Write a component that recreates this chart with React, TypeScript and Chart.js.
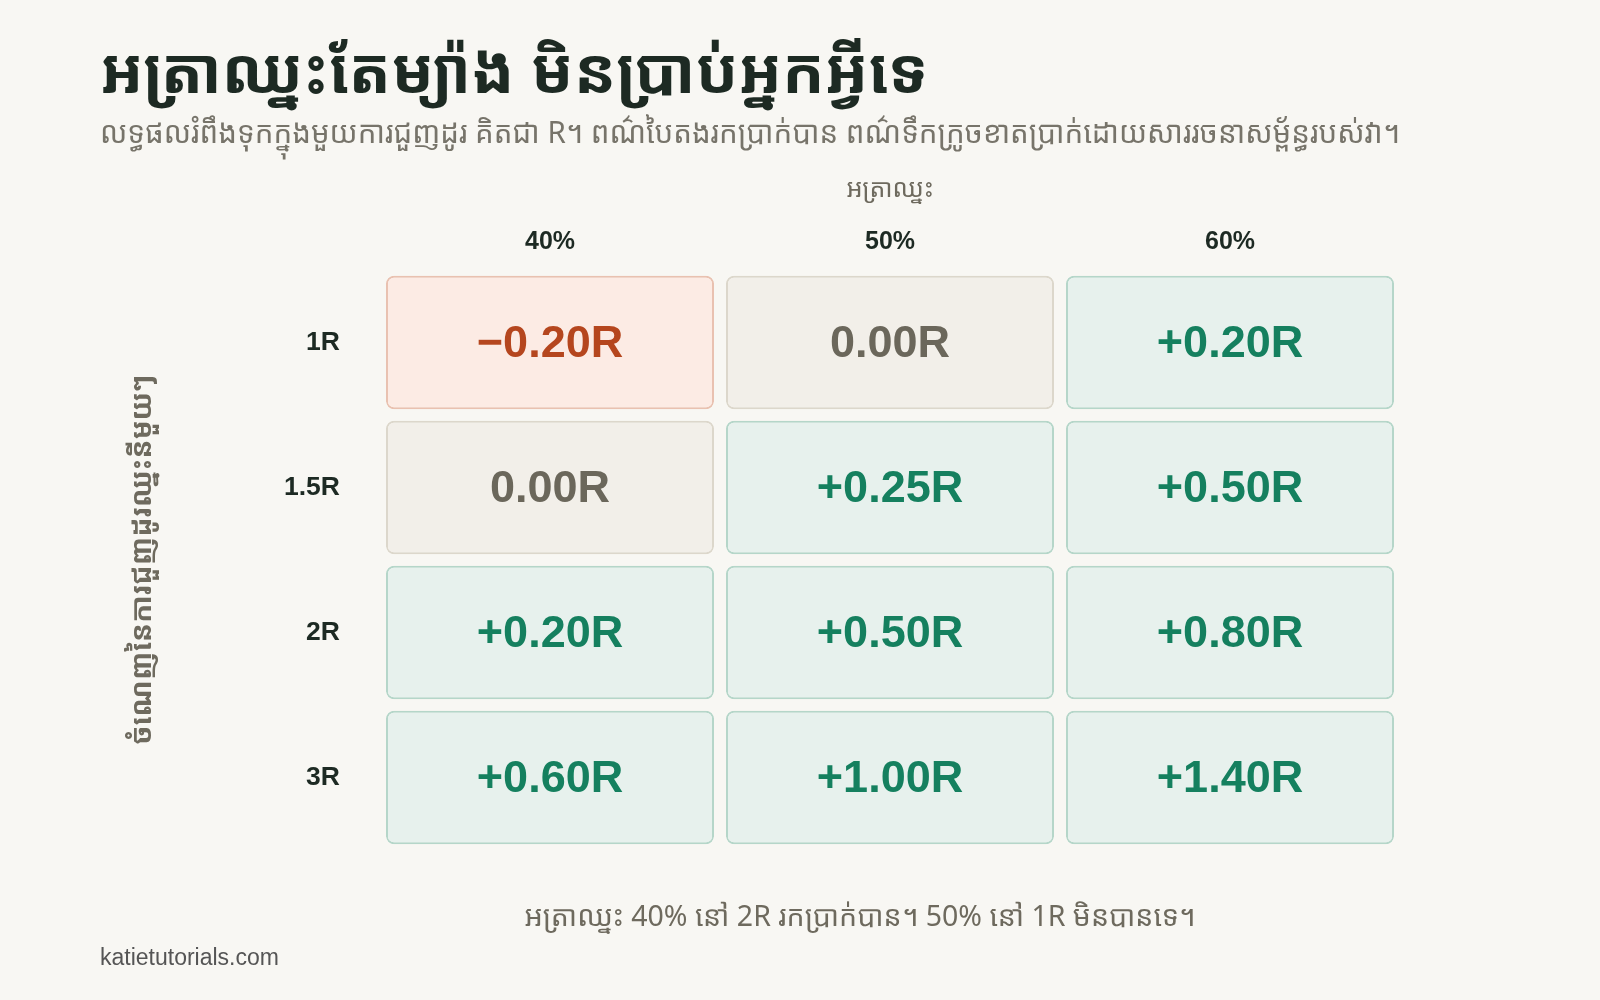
import { useEffect, useRef } from "react"
import { Chart, registerables } from "chart.js"

// Register Chart.js components
Chart.register(...registerables)

// Win rate columns and reward rows
const winRates = ["40%", "50%", "60%"]
const rewardLabels = ["1R", "1.5R", "2R", "3R"]

// Expected value per trade (in R), one array per win rate, rows follow rewardLabels
const ev40 = [-0.2, 0.0, 0.2, 0.6]
const ev50 = [0.0, 0.25, 0.5, 1.0]
const ev60 = [0.2, 0.5, 0.8, 1.4]
const evColumns = [ev40, ev50, ev60]

const titleText = "អត្រាឈ្នះតែម្យ៉ាង មិនប្រាប់អ្នកអ្វីទេ"
const subtitleText =
  "លទ្ធផលរំពឹងទុកក្នុងមួយការជួញដូរ គិតជា R។ ពណ៌បៃតងរកប្រាក់បាន ពណ៌ទឹកក្រូចខាតប្រាក់ដោយសាររចនាសម្ព័ន្ធរបស់វា។"
const xTitle = "អត្រាឈ្នះ"
const yTitle = "ចំណេញនៃការជួញដូរឈ្នះនីមួយៗ"
const footnote = "អត្រាឈ្នះ 40% នៅ 2R រកប្រាក់បាន។ 50% នៅ 1R មិនបានទេ។"
const credit = "katietutorials.com"

const KHMER = "'Noto Sans Khmer', 'Noto Serif Khmer', 'Khmer OS', 'Liberation Sans', sans-serif"
const LATIN = "'Liberation Sans', Arial, Helvetica, sans-serif"

const INK = "#1d2a23"
const MUTED = "#6e6a5e"

function tone(v: number) {
  if (v < 0) return { fill: "#fcebe4", border: "#e9c1b0", text: "#b5461e" }
  if (v === 0) return { fill: "#f2efe9", border: "#dcd7cb", text: "#6b675b" }
  return { fill: "#e7f1ed", border: "#b5d6c9", text: "#15805f" }
}

function formatEv(v: number) {
  if (v > 0) return `+${v.toFixed(2)}R`
  if (v < 0) return `\u2212${Math.abs(v).toFixed(2)}R`
  return `${v.toFixed(2)}R`
}

// small gap between neighbouring cells, as a share of one column
const CELL_INSET = 0.0176

const cellLabels = {
  id: "cellLabels",
  afterDatasetsDraw(chart: Chart) {
    const { ctx } = chart
    ctx.save()
    ctx.font = `bold 45px ${LATIN}`
    ctx.textAlign = "center"
    ctx.textBaseline = "middle"
    chart.data.datasets.forEach((_ds, di) => {
      const meta = chart.getDatasetMeta(di)
      meta.data.forEach((bar: any, ri: number) => {
        const v = evColumns[di][ri]
        const { x, y } = bar.getCenterPoint()
        ctx.fillStyle = tone(v).text
        ctx.fillText(formatEv(v), x, y + 2)
      })
    })
    ctx.restore()
  },
}

const footerNotes = {
  id: "footerNotes",
  afterDraw(chart: Chart) {
    const { ctx } = chart
    ctx.save()
    ctx.textBaseline = "middle"
    ctx.textAlign = "center"
    ctx.fillStyle = MUTED
    ctx.font = `28.5px ${KHMER}`
    ctx.fillText(footnote, 860, 918)
    ctx.textAlign = "left"
    ctx.fillStyle = "#555555"
    ctx.font = `23px ${LATIN}`
    ctx.fillText(credit, 100, 959)
    ctx.restore()
  },
}

function ExpectancyGrid() {
  const chartRef = useRef<HTMLCanvasElement>(null)
  const chartInstance = useRef<Chart | null>(null)

  useEffect(() => {
    if (!chartRef.current) return
    if (chartInstance.current) chartInstance.current.destroy()

    const ctx = chartRef.current.getContext("2d")
    if (!ctx) return

    chartInstance.current = new Chart(ctx, {
      type: "bar",
      data: {
        labels: rewardLabels,
        datasets: evColumns.map((col, ci) => ({
          label: winRates[ci],
          data: col.map(() => [ci + CELL_INSET, ci + 1 - CELL_INSET]),
          grouped: false,
          backgroundColor: col.map((v) => tone(v).fill),
          borderColor: col.map((v) => tone(v).border),
          borderWidth: 2,
          borderRadius: 8,
          borderSkipped: false,
          barPercentage: 0.922,
          categoryPercentage: 1,
        })),
      },
      options: {
        indexAxis: "y",
        animation: false,
        responsive: true,
        maintainAspectRatio: false,
        layout: { padding: { top: 20, left: 100, right: 200, bottom: 150 } },
        scales: {
          x: {
            type: "linear",
            position: "top",
            min: 0,
            max: 3,
            grid: { display: false, drawTicks: false },
            border: { display: false },
            afterBuildTicks: (scale: any) => {
              scale.ticks = winRates.map((_w, i) => ({ value: i + 0.5 }))
            },
            afterFit: (scale: any) => {
              scale.height = 115.9
            },
            ticks: {
              autoSkip: false,
              maxRotation: 0,
              padding: 13,
              color: INK,
              font: { family: LATIN, size: 25, weight: "bold" },
              callback: (_v: any, i: number) => winRates[i],
            },
            title: {
              display: true,
              text: xTitle,
              color: MUTED,
              font: { family: KHMER, size: 25, lineHeight: 1.2 },
              padding: { top: 20.9, bottom: 0 },
            },
          },
          y: {
            type: "category",
            position: "left",
            grid: { display: false, drawTicks: false },
            border: { display: false },
            afterFit: (scale: any) => {
              scale.width = 280
            },
            ticks: {
              padding: 40,
              color: INK,
              font: { family: LATIN, size: 26.5, weight: "bold" },
            },
            title: {
              display: true,
              text: yTitle,
              color: MUTED,
              font: { family: KHMER, size: 28.5, weight: "bold", lineHeight: 1.2 },
              padding: { top: 26, bottom: 0 },
            },
          },
        },
        plugins: {
          legend: { display: false },
          tooltip: { enabled: false },
          title: {
            display: true,
            text: titleText,
            align: "start",
            color: INK,
            font: { family: KHMER, size: 63, weight: "bold", lineHeight: 1.2 },
            padding: { top: 17, bottom: 0 },
          },
          subtitle: {
            display: true,
            text: subtitleText,
            align: "start",
            color: "#77746a",
            font: { family: KHMER, size: 31, lineHeight: 1.3 },
            padding: { top: 1.2, bottom: 0 },
          },
        },
      },
      plugins: [cellLabels, footerNotes],
    } as any)

    return () => {
      if (chartInstance.current) {
        chartInstance.current.destroy()
        chartInstance.current = null
      }
    }
  }, [])

  return <canvas ref={chartRef} />
}

export default function App() {
  return (
    <div
      style={{
        position: "absolute",
        left: 0,
        top: 0,
        width: 1600,
        height: 1000,
        background: "#f8f7f3",
      }}
    >
      <ExpectancyGrid />
    </div>
  )
}
